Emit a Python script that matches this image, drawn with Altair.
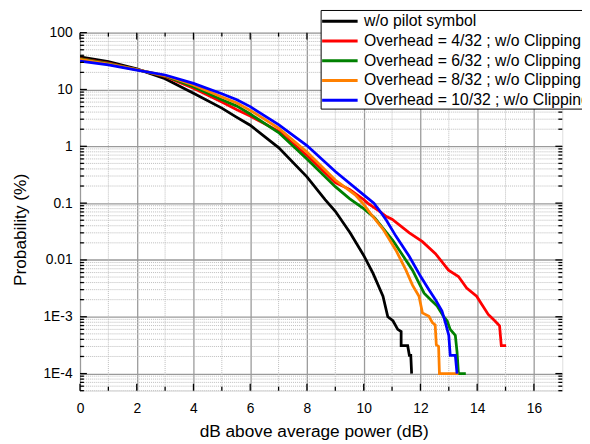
import altair as alt
import pandas as pd

# ---------------- data ----------------
series_names = [
    "w/o pilot symbol",
    "Overhead = 4/32 ; w/o Clipping",
    "Overhead = 6/32 ; w/o Clipping",
    "Overhead = 8/32 ; w/o Clipping",
    "Overhead = 10/32 ; w/o Clipping",
]
series_colors = ["#000000", "#FF0000", "#008000", "#FF8000", "#0000FF"]

black_x = [0, 1, 2, 3, 4, 5, 5.5, 6, 7, 8, 8.64, 9, 9.52, 10, 10.33, 10.68, 10.85,
           11.03, 11.2, 11.32, 11.32, 11.55, 11.61, 11.66, 11.69]
black_y = [37.5, 31, 23, 15.5, 8.6, 4.7, 3.3, 2.35, 0.95, 0.29, 0.115, 0.072, 0.030, 0.012,
           0.0058, 0.0023, 0.001, 0.00085, 0.0006, 0.00055, 0.00031, 0.00031, 0.00021,
           0.00021, 0.0001]

red_x = [0, 1, 2, 3, 4, 5, 5.53, 6, 7, 8, 9, 9.5, 10, 10.14, 10.55, 10.8, 11.0, 11.61,
         12.07, 12.53, 12.99, 13.34, 13.63, 13.98, 14.16, 14.39, 14.62, 14.79, 14.85, 15.02]
red_y = [35, 29, 22.5, 17, 10.5, 6.0, 4.4, 3.4, 1.85, 0.69, 0.23, 0.175, 0.115, 0.1, 0.072,
         0.058, 0.052, 0.030, 0.021, 0.0129, 0.0066, 0.0051, 0.0032, 0.0023, 0.00166,
         0.0011, 0.00085, 0.00069, 0.00031, 0.00031]

green_x = [0, 1, 2, 3, 4, 5, 5.53, 6, 7, 8, 9, 9.5, 10, 10.39, 11.03, 11.38, 11.72, 11.95,
           12.13, 12.36, 12.59, 12.82, 12.94, 13.05, 13.23, 13.29, 13.34, 13.6]
green_y = [34.5, 28.5, 22.3, 17.3, 11.2, 6.6, 5.1, 3.7, 1.75, 0.6, 0.195, 0.12, 0.08, 0.055,
           0.022, 0.012, 0.0066, 0.0039, 0.0026, 0.002, 0.00155, 0.001, 0.00085, 0.0006,
           0.00047, 0.00024, 0.0001, 0.0001]

orange_x = [0, 1, 2, 3, 4, 5, 5.53, 6, 7, 8, 9, 9.7, 10, 10.3, 10.68, 11.14, 11.49, 11.72,
            11.95, 12.07, 12.3, 12.42, 12.52, 12.56, 12.64, 12.67, 13.34]
orange_y = [34, 28, 22.3, 17.6, 12, 7.4, 5.8, 4.3, 2.1, 0.79, 0.255, 0.14, 0.095, 0.06,
            0.035, 0.0147, 0.0066, 0.0036, 0.0023, 0.00117, 0.00102, 0.00079, 0.00072,
            0.00032, 0.0003, 0.0001, 0.0001]

blue_x = [0, 1, 2, 3, 4, 5, 5.53, 6, 7, 8, 9, 10, 10.36, 10.55, 10.8, 11.14, 11.61, 12.01,
          12.3, 12.53, 12.76, 12.88, 13.0, 13.05, 13.23, 13.29]
blue_y = [31.5, 27, 22, 18, 12.8, 8.4, 6.6, 5.0, 2.4, 1.03, 0.36, 0.14, 0.1, 0.075, 0.05,
          0.026, 0.0115, 0.0051, 0.003, 0.002, 0.00126, 0.00079, 0.00047, 0.00021,
          0.00021, 0.0001]

# axis ticks
x_major = [0, 2, 4, 6, 8, 10, 12, 14, 16]
x_minor = [1, 3, 5, 7, 9, 11, 13, 15]
y_major = [1e-4, 1e-3, 0.01, 0.1, 1, 10, 100]
y_major_labels = ["1E-4", "1E-3", "0.01", "0.1", "1", "10", "100"]
y_minor = [m * 10.0 ** k for k in range(-5, 2) for m in range(2, 10)
           if 5e-5 <= m * 10.0 ** k < 100]

X_DOMAIN = [0, 17]
Y_DOMAIN = [5e-5, 100]

W, H = 489, 363
FONT = "Liberation Sans"

# ---------------- build tables ----------------
rows = []
for name, xs, ys in zip(series_names,
                        [black_x, red_x, green_x, orange_x, blue_x],
                        [black_y, red_y, green_y, orange_y, blue_y]):
    for i, (xv, yv) in enumerate(zip(xs, ys)):
        rows.append({"name": name, "x": xv, "y": yv, "idx": i})
df = pd.DataFrame(rows)

xs_major = pd.DataFrame({"x": x_major})
xs_minor = pd.DataFrame({"x": x_minor})
ys_major = pd.DataFrame({"y": y_major})
ys_minor = pd.DataFrame({"y": y_minor})

xscale = alt.Scale(domain=X_DOMAIN, nice=False, zero=False)
yscale = alt.Scale(type="log", domain=Y_DOMAIN, nice=False)

label_arr = "[" + ",".join("'" + s + "'" for s in y_major_labels) + "]"
label_expr = f"{label_arr}[round(log(datum.value)/LN10)+4]"

x_axis = alt.Axis(values=x_major, title="dB above average power (dB)",
                  grid=True, gridColor="#9a9a9a", gridWidth=1.3,
                  ticks=False, domain=False, labelFontSize=14, labelFont=FONT,
                  labelColor="#000000", labelPadding=11, labelFlush=False,
                  titleFont=FONT, titleFontSize=17.5, titleFontWeight="normal",
                  titleColor="#000000", titleX=237, titleY=46,
                  titleAlign="center", titleBaseline="alphabetic")
y_axis = alt.Axis(values=y_major, labelExpr=label_expr, title="Probability (%)",
                  grid=True, gridColor="#9a9a9a", gridWidth=1.3,
                  ticks=False, domain=False, labelFontSize=14, labelFont=FONT,
                  labelColor="#000000", labelPadding=8, labelFlush=False,
                  titleFont=FONT, titleFontSize=17.5, titleFontWeight="normal",
                  titleColor="#000000", titleX=-55, titleY=199.5,
                  titleAngle=270, titleAlign="center",
                  titleBaseline="alphabetic")

# minor dotted grid
minor_grid_x = alt.Chart(xs_minor).mark_rule(
    color="#bdbdbd", strokeWidth=1, strokeDash=[1, 1]
).encode(x=alt.X("x:Q", scale=xscale, axis=x_axis))
minor_grid_y = alt.Chart(ys_minor).mark_rule(
    color="#bdbdbd", strokeWidth=1, strokeDash=[1, 1]
).encode(y=alt.Y("y:Q", scale=yscale, axis=y_axis))

# main curves
lines = alt.Chart(df).mark_line(strokeWidth=2.8, clip=True).encode(
    x=alt.X("x:Q", scale=xscale, axis=x_axis),
    y=alt.Y("y:Q", scale=yscale, axis=y_axis),
    color=alt.Color("name:N", scale=alt.Scale(domain=series_names, range=series_colors),
                    legend=alt.Legend(orient="none", legendX=244, legendY=-23, title=None,
                                      symbolType="M-1,0L2.6,0", symbolSize=400,
                                      symbolStrokeWidth=3, labelFontSize=16,
                                      labelFont=FONT, labelColor="#000000",
                                      labelLimit=400, labelOffset=21,
                                      fillColor="white", strokeColor="#000000",
                                      padding=0, rowPadding=0)),
    order=alt.Order("idx:Q"),
)

# inward ticks on all four sides
def yticks(data, length, right=False):
    x0 = W if right else 0
    x1 = W - length if right else length
    return alt.Chart(data).mark_rule(color="black", strokeWidth=1.3).encode(
        y=alt.Y("y:Q", scale=yscale, axis=y_axis), x=alt.value(x0), x2=alt.value(x1))

def xticks(data, length, top=False):
    y0 = 0 if top else H
    y1 = length if top else H - length
    return alt.Chart(data).mark_rule(color="black", strokeWidth=1.3).encode(
        x=alt.X("x:Q", scale=xscale, axis=x_axis), y=alt.value(y0), y2=alt.value(y1))

ticks = [
    yticks(ys_major, 7), yticks(ys_minor, 4),
    yticks(ys_major, 7, right=True), yticks(ys_minor, 4, right=True),
    xticks(xs_major, 7), xticks(xs_minor, 4),
    xticks(xs_major, 7, top=True), xticks(xs_minor, 4, top=True),
]

chart = alt.layer(minor_grid_x, minor_grid_y, lines, *ticks).properties(
    width=W, height=H,
    autosize=alt.AutoSizeParams(type="none"),
    padding={"left": 73, "top": 22, "right": 20, "bottom": 48},
).configure_view(stroke="black", strokeWidth=2).configure(background="white")

chart.save("out.html", embed_options={"renderer": "svg", "actions": False})
